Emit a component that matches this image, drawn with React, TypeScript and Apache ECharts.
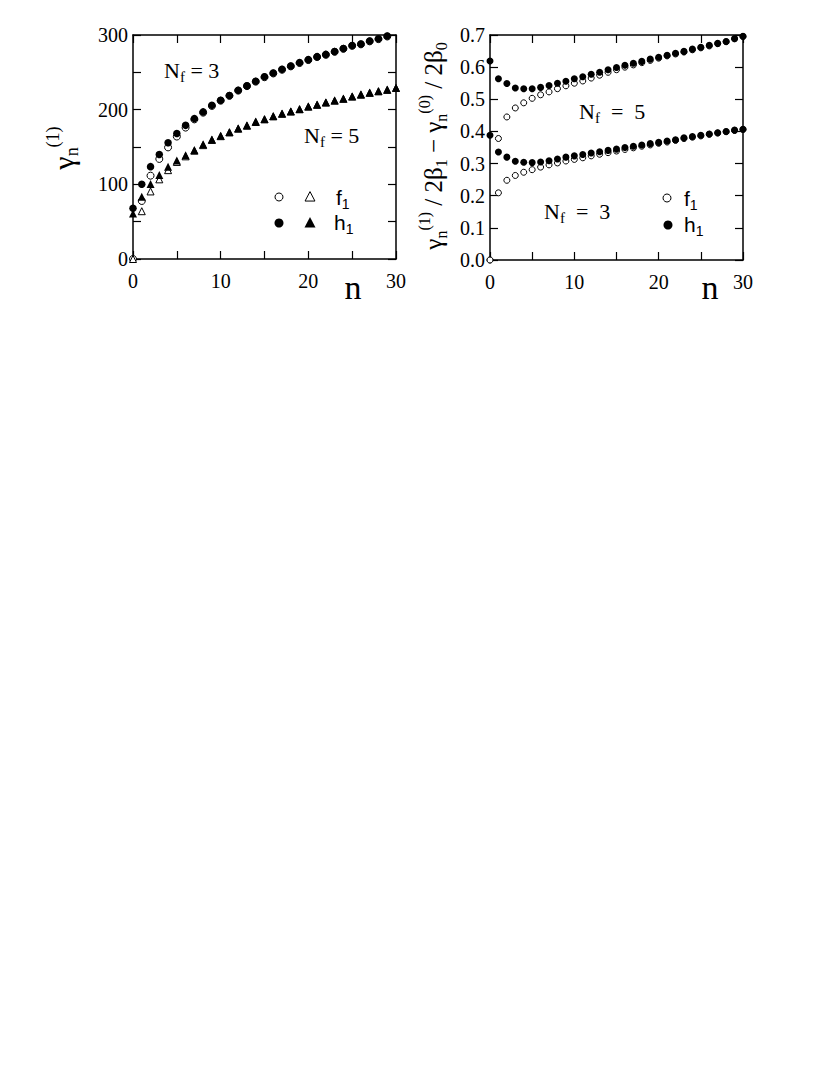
import React, { useEffect, useRef } from 'react';
import * as echarts from 'echarts';

const SERIF = "'Liberation Serif', 'Times New Roman', serif";
const SANS = "'Liberation Sans', Arial, sans-serif";

// n values (x axis)
const nIndex = [0, 1, 2, 3, 4, 5, 6, 7, 8, 9, 10, 11, 12, 13, 14, 15, 16, 17, 18, 19, 20, 21, 22, 23, 24, 25, 26, 27, 28, 29, 30];

// Left panel: gamma_n^(1)
const leftF1Nf3 = [0, 77.7, 111.6, 134, 149.5, 164, 176, 187, 196, 205, 212, 218.5, 225.5, 231.5, 237.5, 243.5, 248.5, 253.5, 258, 262.5, 266.5, 270.5, 273.5, 277.5, 281.5, 285.5, 287.5, 291.5, 294.5, 298];
const leftH1Nf3 = [68, 100, 123.7, 140, 155.8, 168, 179, 188, 197, 206, 212.5, 219, 226, 232, 238, 244, 249, 254, 258.5, 263, 267, 271, 274, 278, 282, 286, 288, 292, 295, 298.6];
const leftF1Nf5 = [0, 64, 90.5, 106.7, 119, 130, 137.5, 145, 152.5, 159.5, 164.5, 169.5, 174.5, 178.5, 183.5, 187, 191, 194.5, 197.5, 200.5, 204, 206.5, 209.5, 212, 214.5, 217.5, 220, 222.5, 224.5, 226.5, 229];
const leftH1Nf5 = [61, 83.5, 100.4, 112.5, 123.7, 132, 139, 146, 153.6, 160, 165, 170, 175, 179, 184, 187.5, 191.5, 195, 198, 201, 204.5, 207, 210, 212.5, 215, 218, 220.5, 223, 225, 227, 229.5];

// Right panel: gamma_n^(1)/2beta1 - gamma_n^(0)/2beta0
const rightH1Nf5 = [0.619, 0.564, 0.549, 0.535, 0.533, 0.533, 0.537, 0.543, 0.55, 0.556, 0.564, 0.57, 0.578, 0.584, 0.592, 0.599, 0.606, 0.612, 0.618, 0.625, 0.631, 0.637, 0.643, 0.649, 0.656, 0.662, 0.668, 0.674, 0.68, 0.689, 0.696];
const rightF1Nf5 = [0, 0.378, 0.445, 0.473, 0.489, 0.503, 0.514, 0.523, 0.533, 0.542, 0.55, 0.557, 0.566, 0.575, 0.584, 0.592, 0.6, 0.607, 0.614, 0.621, 0.628, 0.635, 0.641, 0.647, 0.654, 0.66, 0.666, 0.673, 0.679, 0.688, 0.695];
const rightH1Nf3 = [0.388, 0.336, 0.32, 0.307, 0.304, 0.303, 0.305, 0.309, 0.314, 0.32, 0.324, 0.328, 0.333, 0.337, 0.341, 0.345, 0.35, 0.354, 0.358, 0.362, 0.366, 0.37, 0.374, 0.38, 0.384, 0.388, 0.392, 0.396, 0.4, 0.404, 0.407];
const rightF1Nf3 = [0, 0.209, 0.248, 0.263, 0.273, 0.281, 0.289, 0.296, 0.302, 0.308, 0.313, 0.318, 0.324, 0.329, 0.334, 0.339, 0.344, 0.349, 0.354, 0.358, 0.363, 0.367, 0.372, 0.378, 0.382, 0.386, 0.391, 0.395, 0.399, 0.403, 0.406];

const pairs = (vals: number[]) => vals.map((v, i) => [nIndex[i], v]);

const lineStyle = { color: '#000', width: 1.5 };
const tickStyle = { color: '#000', width: 1.2 };

function xAxes(gridIndex: number) {
  const base = {
    gridIndex,
    type: 'value',
    min: 0,
    max: 30,
    interval: 10,
    axisLine: { show: true, onZero: false, lineStyle },
    axisTick: { show: true, inside: true, length: 8, lineStyle: tickStyle },
    minorTick: { show: true, splitNumber: 2, length: 8, lineStyle: tickStyle },
    splitLine: { show: false },
  };
  return [
    { ...base, position: 'bottom', axisLabel: { show: true, color: '#000', fontSize: 20, fontFamily: SERIF, margin: 12 } },
    { ...base, position: 'top', axisLabel: { show: false } },
  ];
}

function yAxes(gridIndex: number, max: number, interval: number, split: number, fmt: (v: number) => string) {
  const base = {
    gridIndex,
    type: 'value',
    min: 0,
    max,
    interval,
    axisLine: { show: true, onZero: false, lineStyle },
    axisTick: { show: true, inside: true, length: 8, lineStyle: tickStyle },
    minorTick: { show: split > 1, splitNumber: split, length: 8, lineStyle: tickStyle },
    splitLine: { show: false },
  };
  return [
    { ...base, position: 'left', axisLabel: { show: true, color: '#000', fontSize: 20, fontFamily: SERIF, margin: 5, formatter: fmt } },
    { ...base, position: 'right', axisLabel: { show: false } },
  ];
}

function scatter(xi: number, yi: number, vals: number[], symbol: string, size: number, filled: boolean, z: number) {
  return {
    type: 'scatter',
    xAxisIndex: xi,
    yAxisIndex: yi,
    data: pairs(vals),
    symbol,
    symbolSize: size,
    clip: false,
    silent: true,
    z,
    itemStyle: filled
      ? { color: '#000', borderColor: '#000', borderWidth: 0, opacity: 1 }
      : { color: '#fff', borderColor: '#000', borderWidth: 1, opacity: 1 },
  };
}

function tok(size: number, family: string, padding?: number[]) {
  const t: any = { fontSize: size, fontFamily: family, font: `${size}px ${family}`, fill: '#000' };
  if (padding) t.padding = padding;
  return t;
}

function richLabel(x: number, y: number, text: string, rich: any, family: string, rotation = 0, align = 'left') {
  return {
    type: 'text',
    x,
    y,
    rotation,
    silent: true,
    style: { text, rich, fill: '#000', align, verticalAlign: 'middle', fontFamily: family, font: `20px ${family}` },
  };
}

const nfRich = {
  m: tok(22, SERIF),
  s: tok(15, SERIF, [14, 0, 0, 0]),
};
const legRich = {
  m: tok(21, SANS),
  s: tok(14, SANS, [14, 0, 0, 0]),
};
const yRichL = {
  g: tok(30, SERIF),
  sub: tok(18, SERIF, [18, 0, 0, 0]),
  sup: tok(18, SERIF, [0, 0, 20, 0]),
};
const yRichR = {
  g: tok(25, SERIF),
  t: tok(25, SERIF),
  sub: tok(16, SERIF, [16, 0, 0, 0]),
  sup: tok(16, SERIF, [0, 0, 18, 0]),
};

function tri(cx: number, cy: number, s: number) {
  return [[cx, cy - s * 0.6], [cx + s * 0.55, cy + s * 0.45], [cx - s * 0.55, cy + s * 0.45]];
}

export default function App() {
  const ref = useRef<HTMLDivElement>(null);
  useEffect(() => {
    if (!ref.current) return;
    const chart = echarts.init(ref.current, null, { renderer: 'svg' });
    const option: any = {
      animation: false,
      backgroundColor: '#fff',
      grid: [
        { left: 133, top: 35, width: 263, height: 224 },
        { left: 490, top: 35, width: 253, height: 225 },
      ],
      xAxis: [...xAxes(0), ...xAxes(1)],
      yAxis: [
        ...yAxes(0, 300, 100, 2, (v: number) => String(v)),
        ...yAxes(1, 0.7, 0.1, 1, (v: number) => v.toFixed(1)),
      ],
      series: [
        scatter(0, 0, leftF1Nf3, 'circle', 7, false, 2),
        scatter(0, 0, leftF1Nf5, 'triangle', 7, false, 2),
        scatter(0, 0, leftH1Nf3, 'circle', 7.5, true, 3),
        scatter(0, 0, leftH1Nf5, 'triangle', 8, true, 3),
        scatter(2, 2, rightF1Nf5, 'circle', 6, false, 2),
        scatter(2, 2, rightF1Nf3, 'circle', 6, false, 2),
        scatter(2, 2, rightH1Nf5, 'circle', 7, true, 3),
        scatter(2, 2, rightH1Nf3, 'circle', 7, true, 3),
      ],
      graphic: [
        // axis names
        richLabel(63, 148, '{g|γ}{sub|n}{sup|(1)}', yRichL, SERIF, Math.PI / 2, 'center'),
        richLabel(433, 146, '{g|γ}{sub|n}{sup|(1)}{t| / 2β}{sub|1}{t| − }{g|γ}{sub|n}{sup|(0)}{t| / 2β}{sub|0}', yRichR, SERIF, Math.PI / 2, 'center'),
        { type: 'text', x: 353, y: 287, silent: true, style: { text: 'n', fill: '#000', fontSize: 34, fontFamily: SERIF, font: `34px ${SERIF}`, align: 'center', verticalAlign: 'middle' } },
        { type: 'text', x: 710, y: 287, silent: true, style: { text: 'n', fill: '#000', fontSize: 34, fontFamily: SERIF, font: `34px ${SERIF}`, align: 'center', verticalAlign: 'middle' } },
        // Nf annotations
        richLabel(164, 70, '{m|N}{s|f}{m| = 3}', nfRich, SERIF),
        richLabel(304, 135, '{m|N}{s|f}{m| = 5}', nfRich, SERIF),
        richLabel(579, 111, '{m|N}{s|f}{m|  =  5}', nfRich, SERIF),
        richLabel(544, 211, '{m|N}{s|f}{m|  =  3}', nfRich, SERIF),
        // left legend
        { type: 'circle', silent: true, shape: { cx: 279, cy: 197, r: 4 }, style: { fill: '#fff', stroke: '#000', lineWidth: 1 } },
        { type: 'polygon', silent: true, shape: { points: tri(310, 197, 9) }, style: { fill: '#fff', stroke: '#000', lineWidth: 1 } },
        richLabel(336, 197, '{m|f}{s|1}', legRich, SANS),
        { type: 'circle', silent: true, shape: { cx: 279, cy: 223, r: 4.5 }, style: { fill: '#000' } },
        { type: 'polygon', silent: true, shape: { points: tri(310, 223, 10) }, style: { fill: '#000' } },
        richLabel(334, 222, '{m|h}{s|1}', legRich, SANS),
        // right legend
        { type: 'circle', silent: true, shape: { cx: 667, cy: 198, r: 4 }, style: { fill: '#fff', stroke: '#000', lineWidth: 1 } },
        richLabel(684, 198, '{m|f}{s|1}', legRich, SANS),
        { type: 'circle', silent: true, shape: { cx: 668, cy: 225, r: 4.5 }, style: { fill: '#000' } },
        richLabel(684, 224, '{m|h}{s|1}', legRich, SANS),
      ],
    };
    chart.setOption(option);
    return () => chart.dispose();
  }, []);
  return <div ref={ref} style={{ position: 'absolute', left: 0, top: 0, width: 830, height: 1075 }} />;
}
